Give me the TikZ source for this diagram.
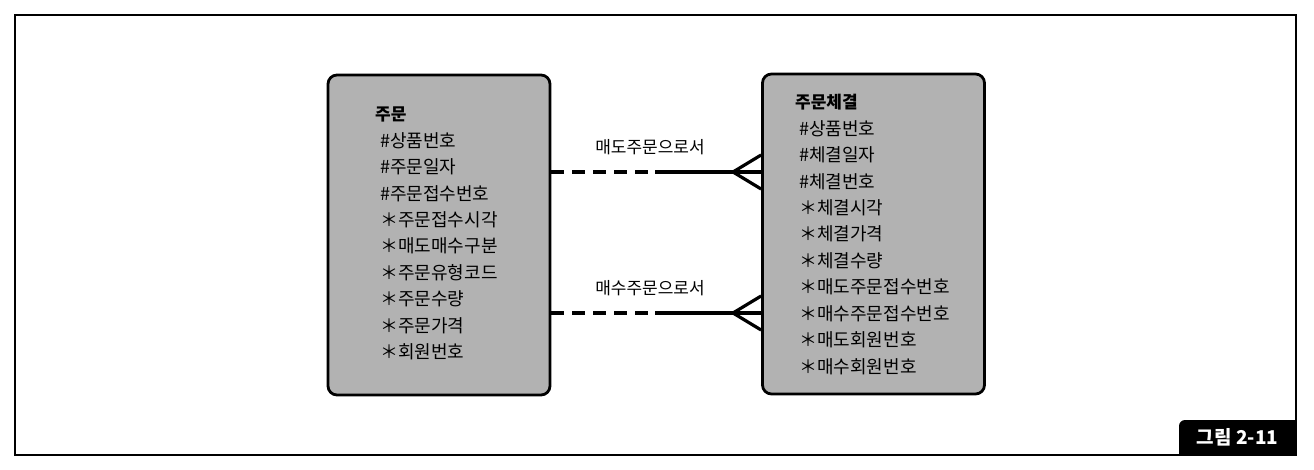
\documentclass[tikz,border=0pt]{standalone}
\usepackage{fontspec}
\newfontfamily\kr{Noto Sans CJK KR}
\usetikzlibrary{positioning}

\begin{document}
\begin{tikzpicture}[x=1pt, y=-1pt,
    entity/.style={rectangle, draw, line width=2.8pt, rounded corners=9pt,
        fill=black!30, minimum width=222pt, minimum height=320pt, inner sep=0pt},
    attr/.style={anchor=base west, inner sep=0pt, font=\kr\fontsize{18}{18}\selectfont},
    relname/.style={inner sep=0pt, font=\kr\fontsize{17}{17}\selectfont},
    rel/.style={line width=3.2pt}]
    \useasboundingbox (0,0) rectangle (1314,470);

    % Outer frame and figure tag
    \draw[line width=1.2pt] (15,15) rectangle (1296,455);
    \node[fill=black, rounded corners=6pt, minimum width=117pt, minimum height=35pt,
          inner sep=0pt] (tag) at (1237.5,437.5) {};
    \fill[black] (tag.south west) rectangle ([xshift=8pt]tag.north west |- tag.center);
    \fill[black] (tag.south east) rectangle ([xshift=-8pt]tag.north east);
    \node[text=white, font=\kr\bfseries\fontsize{19}{19}\selectfont] at (tag.center) {그림 2-11};

    % Entities
    \node[entity] (ord) at (439,235) {};
    \node[entity] (exe) at (873.5,234) {};

    % Attributes of 주문
    \node[attr, font=\kr\bfseries\fontsize{17}{17}\selectfont] (ord-0) at (375,121) {주문};
    \foreach \t [count=\i] in {\#상품번호, \#주문일자, \#주문접수번호, ＊주문접수시각,
        ＊매도매수구분, ＊주문유형코드, ＊주문수량, ＊주문가격, ＊회원번호}
        \node[attr] (ord-\i) at (380,121+26.4*\i) {\t};

    % Attributes of 주문체결
    \node[attr, font=\kr\bfseries\fontsize{17}{17}\selectfont] (exe-0) at (795,109) {주문체결};
    \foreach \t [count=\i] in {\#상품번호, \#체결일자, \#체결번호, ＊체결시각, ＊체결가격,
        ＊체결수량, ＊매도주문접수번호, ＊매수주문접수번호, ＊매도회원번호, ＊매수회원번호}
        \node[attr] (exe-\i) at (799,109+26.4*\i) {\t};

    % Relationships
    \coordinate (sell-mid) at (655,172);
    \coordinate (sell-fork) at (733,172);
    \coordinate (buy-mid) at (655,313);
    \coordinate (buy-fork) at (733,313);

    \draw[rel, dash pattern=on 13pt off 8pt] (ord.east |- sell-mid) -- (sell-mid);
    \draw[rel] (sell-mid) -- (exe.west |- sell-mid);
    \draw[rel] ([yshift=-17pt]exe.west |- sell-fork) -- (sell-fork) -- ([yshift=17pt]exe.west |- sell-fork);
    \node[relname] (sell) at (650,147) {매도주문으로서};

    \draw[rel, dash pattern=on 13pt off 8pt] (ord.east |- buy-mid) -- (buy-mid);
    \draw[rel] (buy-mid) -- (exe.west |- buy-mid);
    \draw[rel] ([yshift=-17pt]exe.west |- buy-fork) -- (buy-fork) -- ([yshift=17pt]exe.west |- buy-fork);
    \node[relname] (buy) at (650,288) {매수주문으로서};
\end{tikzpicture}
\end{document}
